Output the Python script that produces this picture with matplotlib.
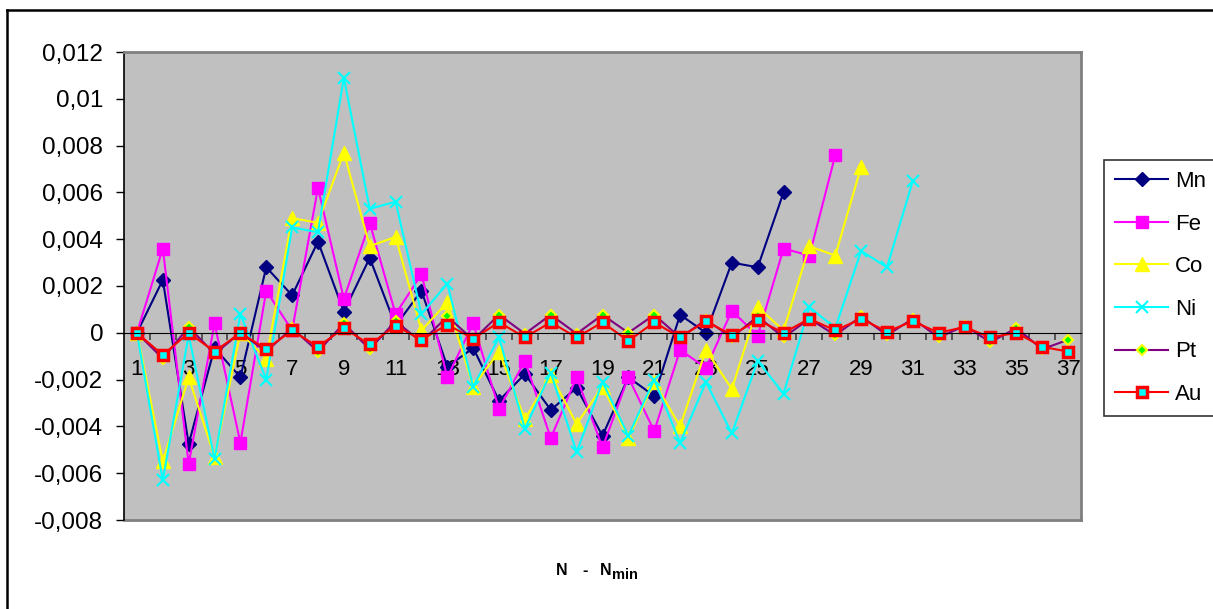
import numpy as np
import matplotlib
matplotlib.use("Agg")
import matplotlib.pyplot as plt
from matplotlib.lines import Line2D

# deviations vs N - Nmin
mn = [0, 0.00226, -0.00475, -0.00065, -0.0019, 0.0028, 0.0016, 0.0039, 0.0009, 0.0032,
      0.0003, 0.0018, -0.00145, -0.00065, -0.0029, -0.00176, -0.0033, -0.00235, -0.0044,
      -0.0019, -0.0027, 0.00077, 0.0, 0.003, 0.0028, 0.006]
fe = [0, 0.0036, -0.0056, 0.0004, -0.0047, 0.0018, 0.0001, 0.0062, 0.00145, 0.0047,
      0.0008, 0.0025, -0.0019, 0.0004, -0.00325, -0.0012, -0.0045, -0.0019, -0.0049,
      -0.0019, -0.0042, -0.00073, -0.0015, 0.00094, -0.00013, 0.0036, 0.0033, 0.0076]
co = [0, -0.0055, -0.0019, -0.0053, 0.0, -0.0011, 0.0049, 0.0047, 0.0077, 0.0037,
      0.0041, 0.0001, 0.0013, -0.0023, -0.0008, -0.0037, -0.0018, -0.0039, -0.0023,
      -0.0045, -0.0021, -0.004, -0.00073, -0.0024, 0.0011, 0.0001, 0.0037, 0.0033, 0.0071]
ni = [0, -0.0063, -0.0001, -0.0054, 0.0008, -0.002, 0.0045, 0.0043, 0.0109, 0.0053,
      0.0056, 0.0008, 0.0021, -0.0023, -0.0002, -0.0041, -0.0017, -0.0051, -0.0021,
      -0.0044, -0.002, -0.0047, -0.0021, -0.0043, -0.0012, -0.0026, 0.0011, 0.0002,
      0.0035, 0.0028, 0.0065]
pt = [0, -0.0011, 0.00025, -0.0009, 0.0, -0.0008, 0.0002, -0.0008, 0.0004, -0.0007,
      0.0005, -0.0004, 0.0007, -0.0003, 0.00077, -0.00004, 0.00077, -0.00004, 0.00077,
      0.0, 0.00077, -0.0002, 0.00055, -0.0002, 0.0007, -0.0002, 0.0006, -0.0001, 0.0007,
      -0.0001, 0.0006, -0.0002, 0.0003, -0.0004, 0.0002, -0.0007, -0.0003]
au = [0, -0.00095, 0.0, -0.0008, 0.0, -0.0007, 0.0001, -0.0006, 0.0002, -0.0005,
      0.0003, -0.0003, 0.00035, -0.00025, 0.00045, -0.0002, 0.00045, -0.0002, 0.00045,
      -0.00035, 0.00045, -0.0002, 0.0005, -0.0001, 0.00055, 0.0, 0.0006, 0.0001, 0.0006,
      0.00005, 0.0005, 0.0, 0.00025, -0.0002, 0.0, -0.0006, -0.0008]

yticks = [-0.008, -0.006, -0.004, -0.002, 0, 0.002, 0.004, 0.006, 0.008, 0.01, 0.012]
ytick_labels = ["-0,008", "-0,006", "-0,004", "-0,002", "0", "0,002", "0,004",
                "0,006", "0,008", "0,01", "0,012"]

plt.rcParams['font.family'] = ['Liberation Sans', 'DejaVu Sans']

W, H = 1213, 609
fig = plt.figure(figsize=(W / 100, H / 100), dpi=100)
ax = fig.add_axes([124 / W, 1 - 520 / H, (1081 - 124) / W, (520 - 52) / H])
ax.set_facecolor('#C0C0C0')

def xs(vals):
    return np.arange(1, len(vals) + 1)

ax.plot(xs(mn), mn, color='#000080', lw=1.5, marker='D', ms=7, label='Mn')
ax.plot(xs(fe), fe, color='#FF00FF', lw=1.5, marker='s', ms=8, label='Fe')
ax.plot(xs(co), co, color='#FFFF00', lw=1.5, marker='^', ms=10, label='Co')
ax.plot(xs(ni), ni, color='#00FFFF', lw=1.5, marker='x', ms=8, mew=1.5, label='Ni')
ax.plot(xs(pt), pt, color='#800080', lw=1.5, marker='D', ms=5.5, mfc='#00FF00',
        mec='#FFFF00', mew=1.5, label='Pt')
ax.plot(xs(au), au, color='#FF0000', lw=1.5, marker='s', ms=6.5, mfc='#00FFFF',
        mec='#FF0000', mew=2.5, label='Au')

ax.set_xlim(0.5, 37.5)
ax.set_ylim(-0.008, 0.012)
ax.set_yticks(yticks)
ax.set_yticklabels(ytick_labels)
ax.tick_params(axis='y', direction='out', length=6, width=1, pad=9, labelsize=17.5)

cats = np.arange(1, 38)
ax.set_xticks(cats[::2])
ax.set_xticklabels([str(c) for c in cats[::2]])
ax.set_xticks(np.arange(1.5, 37.5, 1), minor=True)
ax.tick_params(axis='x', which='major', length=0, pad=19, labelsize=16)
ax.tick_params(axis='x', which='minor', direction='out', length=5, width=1.2,
               color='#404040')

ax.spines['bottom'].set_position(('data', 0))
ax.spines['bottom'].set_color('black')
ax.spines['left'].set_color('black')
ax.spines['left'].set_linewidth(1.2)
for s in ['top', 'right']:
    ax.spines[s].set_color('#808080')
    ax.spines[s].set_linewidth(2)
ax.plot([0, 1], [0, 0], transform=ax.transAxes, color='#808080', lw=2, clip_on=False)

# outer chart border
fig.add_artist(Line2D([7 / W, 1.0], [1 - 10 / H, 1 - 10 / H], color='black', lw=1.8))
fig.add_artist(Line2D([7 / W, 7 / W], [0, 1 - 10 / H], color='black', lw=1.8))

# axis title "N - Nmin" with subscript
base = 1 - 575 / H
fig.text(562 / W, base, 'N', ha='center', va='baseline', fontsize=11.5, fontweight='bold')
fig.text(585.5 / W, base, '-', ha='center', va='baseline', fontsize=11.5, fontweight='bold')
fig.text(605.5 / W, base, 'N', ha='center', va='baseline', fontsize=11.5, fontweight='bold')
fig.text(612 / W, 1 - 579 / H, 'min', ha='left', va='baseline', fontsize=10.5,
         fontweight='bold')

leg = fig.legend(loc='upper left', bbox_to_anchor=(1104 / W, 1 - 160 / H),
                 fontsize=16, frameon=True, fancybox=False, handlelength=2.4,
                 handletextpad=0.3, labelspacing=0.97, borderpad=0.5,
                 borderaxespad=0)
leg.get_frame().set_edgecolor('black')
leg.get_frame().set_linewidth(1.2)

fig.savefig('out.png', dpi=100)
